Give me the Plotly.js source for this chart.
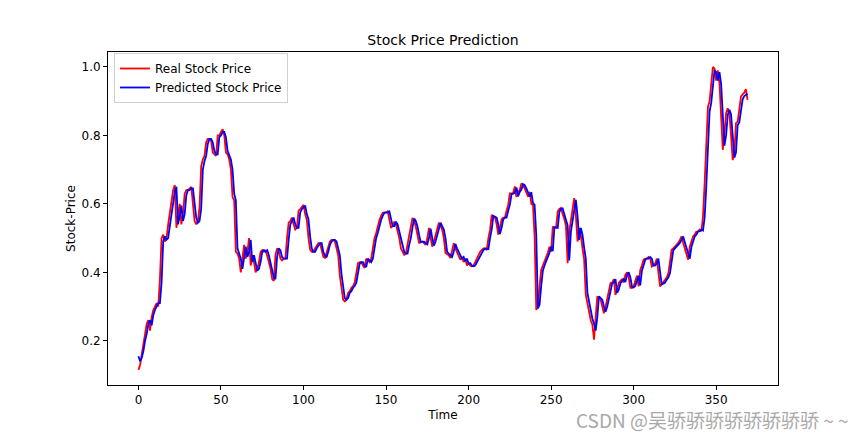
<!DOCTYPE html>
<html>
<head>
<meta charset="utf-8">
<script src="https://cdn.plot.ly/plotly-3.0.1.min.js"></script>
<style>
  body { margin: 0; background: #fff; }
  #chart { width: 865px; height: 433px; }
</style>
</head>
<body>
<div id="chart"></div>
<script>
// values (index = time step)
const realPrice = [
  0.115, 0.13, 0.16, 0.19, 0.21, 0.25, 0.26, 0.23, 0.27, 0.29,
  0.30, 0.31, 0.30, 0.38, 0.50, 0.51, 0.49, 0.50, 0.54, 0.57,
  0.60, 0.64, 0.655, 0.53, 0.57, 0.60, 0.54, 0.57, 0.63, 0.64,
  0.64, 0.645, 0.65, 0.60, 0.55, 0.54, 0.55, 0.59, 0.71, 0.73,
  0.74, 0.78, 0.79, 0.79, 0.785, 0.75, 0.745, 0.74, 0.80, 0.80,
  0.81, 0.818, 0.80, 0.75, 0.745, 0.73, 0.70, 0.62, 0.61, 0.46,
  0.455, 0.44, 0.40, 0.45, 0.48, 0.44, 0.46, 0.50, 0.42, 0.45,
  0.43, 0.40, 0.41, 0.43, 0.46, 0.465, 0.46, 0.465, 0.45, 0.43,
  0.41, 0.38, 0.375, 0.45, 0.47, 0.465, 0.44, 0.435, 0.44, 0.44,
  0.50, 0.545, 0.55, 0.56, 0.54, 0.525, 0.53, 0.58, 0.585, 0.59,
  0.597, 0.57, 0.553, 0.50, 0.466, 0.46, 0.46, 0.47, 0.48, 0.485,
  0.485, 0.46, 0.445, 0.442, 0.46, 0.48, 0.49, 0.495, 0.495, 0.49,
  0.47, 0.45, 0.39, 0.35, 0.32, 0.315, 0.32, 0.34, 0.345, 0.355,
  0.36, 0.37, 0.40, 0.427, 0.43, 0.43, 0.42, 0.413, 0.44, 0.435,
  0.43, 0.44, 0.475, 0.50, 0.515, 0.535, 0.553, 0.565, 0.574, 0.575,
  0.574, 0.578, 0.555, 0.53, 0.535, 0.548, 0.54, 0.52, 0.50, 0.47,
  0.46, 0.451, 0.455, 0.48, 0.50, 0.53, 0.559, 0.55, 0.534, 0.51,
  0.485, 0.49, 0.49, 0.485, 0.48, 0.50, 0.53, 0.50, 0.475, 0.49,
  0.51, 0.53, 0.545, 0.535, 0.525, 0.50, 0.457, 0.453, 0.45, 0.442,
  0.46, 0.485, 0.47, 0.457, 0.45, 0.437, 0.445, 0.43, 0.44, 0.42,
  0.427, 0.42, 0.417, 0.42, 0.43, 0.44, 0.45, 0.46, 0.465, 0.47,
  0.47, 0.465, 0.50, 0.524, 0.568, 0.565, 0.56, 0.54, 0.51, 0.53,
  0.555, 0.56, 0.56, 0.58, 0.597, 0.631, 0.63, 0.631, 0.651, 0.62,
  0.635, 0.641, 0.66, 0.655, 0.645, 0.63, 0.621, 0.635, 0.60, 0.597,
  0.505, 0.29, 0.30, 0.36, 0.407, 0.42, 0.432, 0.44, 0.457, 0.475,
  0.46, 0.534, 0.53, 0.53, 0.578, 0.585, 0.588, 0.57, 0.556, 0.535,
  0.427, 0.52, 0.55, 0.578, 0.617, 0.565, 0.49, 0.53, 0.51, 0.47,
  0.437, 0.334, 0.31, 0.28, 0.26, 0.247, 0.203, 0.27, 0.33, 0.325,
  0.32, 0.30, 0.28, 0.30, 0.325, 0.35, 0.369, 0.37, 0.38, 0.334,
  0.35, 0.369, 0.375, 0.38, 0.37, 0.393, 0.40, 0.385, 0.355, 0.354,
  0.36, 0.375, 0.39, 0.359, 0.407, 0.42, 0.437, 0.44, 0.44, 0.445,
  0.44, 0.417, 0.42, 0.425, 0.44, 0.40, 0.359, 0.365, 0.37, 0.378,
  0.385, 0.397, 0.43, 0.466, 0.47, 0.475, 0.48, 0.486, 0.495, 0.505,
  0.486, 0.47, 0.457, 0.437, 0.475, 0.49, 0.505, 0.51, 0.519, 0.52,
  0.525, 0.52, 0.563, 0.66, 0.758, 0.884, 0.90, 0.962, 1.0, 0.995,
  0.96, 0.99, 0.952, 0.855, 0.758, 0.806, 0.865, 0.879, 0.865, 0.80,
  0.728, 0.75, 0.836, 0.84, 0.87, 0.913, 0.92, 0.925, 0.935, 0.904
];

const predictedPrice = [
  0.155, 0.14, 0.15, 0.17, 0.20, 0.22, 0.25, 0.26, 0.245, 0.275,
  0.29, 0.30, 0.31, 0.31, 0.37, 0.49, 0.505, 0.495, 0.50, 0.535,
  0.565, 0.60, 0.635, 0.65, 0.54, 0.565, 0.595, 0.55, 0.57, 0.625,
  0.64, 0.64, 0.645, 0.645, 0.605, 0.56, 0.545, 0.55, 0.585, 0.70,
  0.725, 0.74, 0.775, 0.79, 0.79, 0.78, 0.755, 0.745, 0.745, 0.795,
  0.80, 0.81, 0.81, 0.795, 0.755, 0.745, 0.73, 0.70, 0.63, 0.61,
  0.47, 0.455, 0.44, 0.41, 0.45, 0.475, 0.445, 0.46, 0.495, 0.43,
  0.45, 0.43, 0.405, 0.41, 0.43, 0.46, 0.465, 0.46, 0.465, 0.45,
  0.43, 0.41, 0.385, 0.38, 0.445, 0.47, 0.465, 0.445, 0.44, 0.44,
  0.44, 0.495, 0.54, 0.55, 0.56, 0.54, 0.53, 0.53, 0.575, 0.585,
  0.59, 0.595, 0.57, 0.555, 0.505, 0.47, 0.46, 0.46, 0.47, 0.48,
  0.485, 0.485, 0.46, 0.448, 0.445, 0.46, 0.48, 0.49, 0.495, 0.495,
  0.49, 0.47, 0.45, 0.395, 0.355, 0.325, 0.32, 0.325, 0.34, 0.345,
  0.355, 0.36, 0.37, 0.40, 0.425, 0.43, 0.43, 0.42, 0.415, 0.44,
  0.435, 0.43, 0.44, 0.475, 0.50, 0.515, 0.535, 0.553, 0.565, 0.574,
  0.575, 0.575, 0.578, 0.555, 0.535, 0.535, 0.548, 0.54, 0.52, 0.50,
  0.475, 0.46, 0.455, 0.455, 0.48, 0.50, 0.53, 0.557, 0.55, 0.535,
  0.51, 0.488, 0.49, 0.49, 0.485, 0.482, 0.50, 0.528, 0.50, 0.478,
  0.49, 0.51, 0.53, 0.545, 0.535, 0.525, 0.50, 0.46, 0.455, 0.45,
  0.445, 0.46, 0.483, 0.47, 0.458, 0.45, 0.44, 0.445, 0.432, 0.44,
  0.425, 0.427, 0.42, 0.418, 0.42, 0.43, 0.44, 0.45, 0.46, 0.465,
  0.47, 0.47, 0.468, 0.50, 0.525, 0.565, 0.563, 0.56, 0.54, 0.512,
  0.53, 0.555, 0.56, 0.56, 0.58, 0.597, 0.628, 0.63, 0.632, 0.648,
  0.622, 0.635, 0.642, 0.658, 0.655, 0.645, 0.632, 0.622, 0.634, 0.603,
  0.597, 0.51, 0.295, 0.305, 0.36, 0.405, 0.42, 0.432, 0.44, 0.457,
  0.475, 0.462, 0.532, 0.53, 0.53, 0.576, 0.585, 0.587, 0.57, 0.556,
  0.537, 0.435, 0.52, 0.55, 0.578, 0.612, 0.565, 0.495, 0.53, 0.51,
  0.472, 0.44, 0.34, 0.315, 0.285, 0.265, 0.25, 0.23, 0.27, 0.33,
  0.325, 0.32, 0.30, 0.285, 0.30, 0.325, 0.35, 0.368, 0.37, 0.38,
  0.34, 0.35, 0.368, 0.375, 0.38, 0.372, 0.392, 0.40, 0.386, 0.358,
  0.356, 0.36, 0.375, 0.39, 0.362, 0.405, 0.42, 0.436, 0.44, 0.44,
  0.445, 0.44, 0.42, 0.42, 0.425, 0.44, 0.402, 0.365, 0.367, 0.37,
  0.378, 0.385, 0.397, 0.43, 0.464, 0.47, 0.475, 0.48, 0.486, 0.495,
  0.505, 0.488, 0.472, 0.46, 0.44, 0.474, 0.49, 0.505, 0.51, 0.519,
  0.52, 0.525, 0.522, 0.56, 0.65, 0.75, 0.87, 0.895, 0.955, 0.99,
  0.985, 0.96, 0.985, 0.95, 0.86, 0.77, 0.80, 0.86, 0.875, 0.862,
  0.80, 0.735, 0.75, 0.83, 0.838, 0.87, 0.905, 0.915, 0.918, 0.922
];

const timeSteps = realPrice.map((v, i) => i);
const xTicks = [0, 50, 100, 150, 200, 250, 300, 350];
const yTicks = [0.2, 0.4, 0.6, 0.8, 1.0];
const yTickText = ['0.2', '0.4', '0.6', '0.8', '1.0'];

const font = 'DejaVu Sans, sans-serif';

const traces = [
  {
    x: timeSteps, y: realPrice,
    mode: 'lines', type: 'scatter',
    name: 'Real Stock Price',
    line: {color: '#ff0000', width: 1.8}
  },
  {
    x: timeSteps, y: predictedPrice,
    mode: 'lines', type: 'scatter',
    name: 'Predicted Stock Price',
    line: {color: '#0000ff', width: 1.8}
  }
];

const layout = {
  width: 865,
  height: 433,
  margin: {l: 108, r: 87, t: 52, b: 48},
  paper_bgcolor: '#ffffff',
  plot_bgcolor: '#ffffff',
  font: {family: font, size: 12, color: '#000000'},
  title: {
    text: 'Stock Price Prediction',
    font: {family: font, size: 14, color: '#000000'},
    x: 0.5, xref: 'paper', xanchor: 'center',
    y: 1 - 40 / 433, yref: 'container', yanchor: 'middle'
  },
  xaxis: {
    range: [-18.45, 387.45],
    tickvals: xTicks,
    ticks: 'outside', ticklen: 4, tickcolor: '#000000',
    showline: true, linecolor: '#000000', linewidth: 1, mirror: true,
    showgrid: false, zeroline: false,
    title: {text: 'Time', font: {family: font, size: 12}, standoff: 4}
  },
  yaxis: {
    range: [0.0708, 1.0438],
    tickvals: yTicks,
    ticktext: yTickText,
    ticks: 'outside', ticklen: 4, tickcolor: '#000000',
    showline: true, linecolor: '#000000', linewidth: 1, mirror: true,
    showgrid: false, zeroline: false,
    title: {text: 'Stock-Price', font: {family: font, size: 12}, standoff: 3}
  },
  legend: {
    x: 0.009, y: 0.997, xanchor: 'left', yanchor: 'top',
    bgcolor: 'rgba(255,255,255,0.8)',
    bordercolor: '#d0d0d0', borderwidth: 1,
    font: {family: font, size: 12},
    tracegroupgap: 0
  },
  showlegend: true,
  annotations: [
    {
      text: 'CSDN @吴骄骄骄骄骄骄骄骄 ~ ~',
      xref: 'paper', yref: 'paper',
      x: (851 - 108) / 670, y: (385 - 419) / 333,
      xanchor: 'right', yanchor: 'middle',
      showarrow: false,
      font: {family: 'Noto Sans CJK SC, sans-serif', size: 19, color: '#a8a8a8'}
    }
  ]
};

Plotly.newPlot('chart', traces, layout, {staticPlot: true, displayModeBar: false});
</script>
</body>
</html>
